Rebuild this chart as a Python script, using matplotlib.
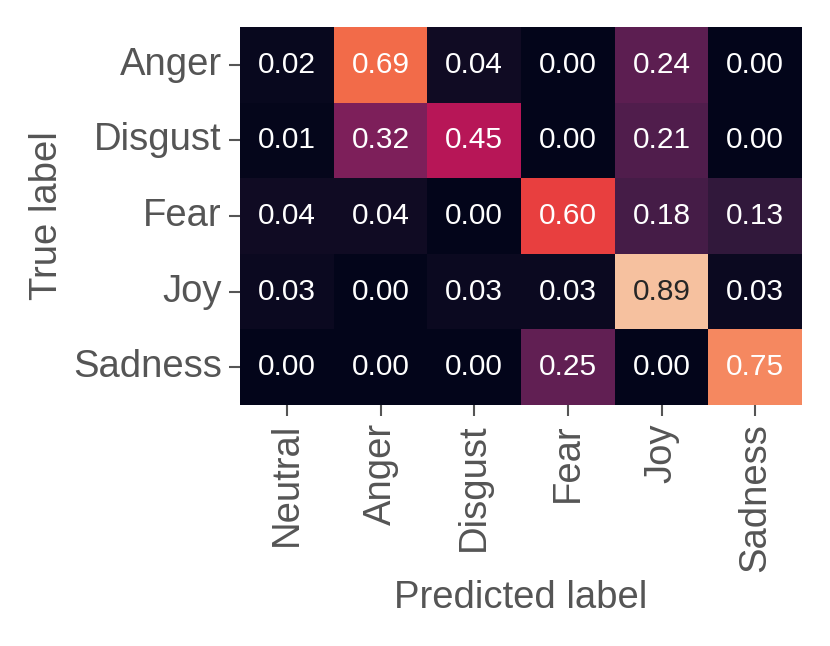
import numpy as np
import matplotlib
matplotlib.use("Agg")
import matplotlib.pyplot as plt
import seaborn as sns

pred_labels = ["Neutral", "Anger", "Disgust", "Fear", "Joy", "Sadness"]
true_labels = ["Anger", "Disgust", "Fear", "Joy", "Sadness"]
row_anger = [0.02, 0.69, 0.04, 0.00, 0.24, 0.00]
row_disgust = [0.01, 0.32, 0.45, 0.00, 0.21, 0.00]
row_fear = [0.04, 0.04, 0.00, 0.60, 0.18, 0.13]
row_joy = [0.03, 0.00, 0.03, 0.03, 0.89, 0.03]
row_sadness = [0.00, 0.00, 0.00, 0.25, 0.00, 0.75]

data = np.array([row_anger, row_disgust, row_fear, row_joy, row_sadness])

plt.rcParams['font.family'] = ['Liberation Sans', 'DejaVu Sans']
gray = "#555555"

fig = plt.figure(figsize=(8.30, 6.46), dpi=100)
ax = fig.add_axes([240/830, 1-405/646, 562/830, 378/646])
sns.heatmap(data, ax=ax, cmap="rocket", vmin=0, vmax=1, cbar=False,
            annot=True, fmt=".2f", annot_kws={"size": 21.5},
            xticklabels=pred_labels, yticklabels=true_labels)
ax.tick_params(axis="both", colors=gray, labelcolor=gray, labelsize=27.5,
               length=8, width=1.5, pad=5)
ax.set_xticklabels(pred_labels, rotation=90)
ax.set_yticklabels(true_labels, rotation=0)
ax.set_xlabel("Predicted label", fontsize=27.5, color=gray, labelpad=6)
ax.set_ylabel("True label", fontsize=27.5, color=gray, labelpad=6)
fig.savefig("out.png", dpi=100)
